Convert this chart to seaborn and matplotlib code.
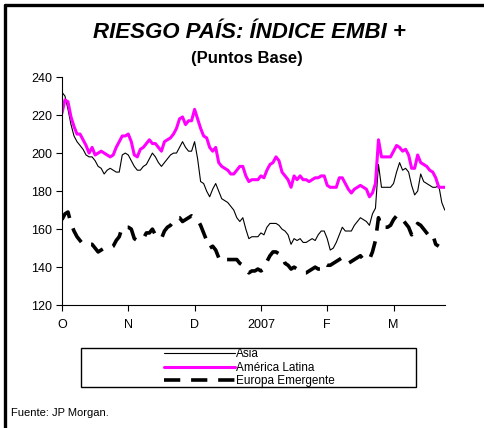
import seaborn as sns
import matplotlib
matplotlib.use("Agg")
import matplotlib.pyplot as plt
import pandas as pd
from matplotlib.lines import Line2D
from matplotlib.patches import Rectangle

# trading days from early October 2006 to late March 2007 (index = day number)
month_ticks = [0, 22, 44, 66, 88, 110]
month_labels = ["O", "N", "D", "2007", "F", "M"]

asia = [232, 230, 223, 215, 209, 206, 204, 202, 199, 198,
        198, 196, 193, 192, 189, 191, 192, 191, 190, 190,
        199, 200, 199, 196, 193, 191, 191, 193, 194, 197,
        200, 198, 195, 193, 195, 197, 199, 200, 200, 203,
        206, 203, 201, 201, 206, 197, 185, 184, 180, 177,
        181, 184, 180, 176, 175, 174, 172, 170, 166, 164,
        166, 160, 155, 156, 156, 156, 158, 157, 161, 163,
        163, 163, 162, 160, 159, 157, 152, 155, 154, 155,
        153, 153, 154, 155, 154, 157, 159, 159, 155, 149,
        150, 153, 157, 161, 159, 159, 159, 162, 164, 166,
        165, 164, 162, 168, 171, 194, 182, 182, 182, 182,
        184, 190, 195, 191, 192, 190, 183, 178, 180, 189,
        185, 184, 183, 182, 182, 183, 174, 170]

america_latina = [221, 228, 227, 219, 214, 210, 210, 207, 204, 200,
                  203, 199, 200, 201, 200, 199, 198, 199, 203, 206,
                  209, 209, 210, 206, 199, 198, 202, 203, 205, 207,
                  205, 205, 203, 201, 206, 207, 208, 210, 213, 218,
                  219, 215, 217, 217, 223, 218, 213, 209, 208, 203,
                  201, 203, 195, 193, 192, 191, 189, 189, 191, 193,
                  193, 188, 185, 186, 186, 186, 188, 187, 191, 194,
                  195, 198, 196, 190, 188, 186, 182, 188, 186, 188,
                  186, 186, 185, 186, 187, 187, 188, 188, 183, 182,
                  182, 182, 187, 187, 184, 181, 179, 181, 182, 183,
                  182, 181, 177, 179, 184, 207, 198, 198, 198, 198,
                  201, 204, 203, 201, 202, 199, 192, 192, 199, 195,
                  194, 193, 191, 190, 187, 182, 182, 182]

europa_emergente = [165, 168, 169, 163, 159, 156, 154, 152, 152, 152,
                    152, 150, 148, 149, 150, 150, 150, 151, 154, 156,
                    161, 161, 161, 160, 155, 154, 154, 155, 158, 158,
                    160, 157, 156, 155, 159, 161, 162, 164, 166, 166,
                    164, 165, 166, 167, 166, 165, 162, 158, 154, 150,
                    151, 149, 145, 143, 144, 144, 144, 144, 144, 142,
                    141, 139, 137, 138, 138, 139, 138, 139, 143, 146,
                    148, 148, 147, 146, 142, 141, 139, 140, 139, 138,
                    137, 137, 138, 139, 140, 139, 139, 142, 141, 141,
                    142, 143, 144, 145, 143, 142, 143, 144, 145, 146,
                    144, 144, 144, 148, 154, 166, 161, 161, 161, 162,
                    165, 167, 167, 165, 163, 161, 157, 159, 163, 162,
                    160, 158, 156, 157, 152, 151]

sns.set_style("white")
plt.rcParams["font.family"] = ["Liberation Sans", "DejaVu Sans"]
plt.rcParams["text.color"] = "black"

fig = plt.figure(figsize=(4.84, 4.28), dpi=100)
ax = fig.add_axes([0.128, 0.287, 0.791, 0.533])

sns.lineplot(x=range(len(asia)), y=asia, ax=ax, color="black", lw=0.8,
             label="Asia")
sns.lineplot(x=range(len(america_latina)), y=america_latina, ax=ax,
             color="#ff00ff", lw=2.2, label="América Latina")
sns.lineplot(x=range(len(europa_emergente)), y=europa_emergente, ax=ax,
             color="black", lw=2.6, label="Europa Emergente")
ax.lines[2].set_dashes((4.5, 3))

ax.set_xlim(0, 127)
ax.set_ylim(120, 240)
ax.set_yticks(range(120, 241, 20))
ax.set_xticks(month_ticks)
ax.set_xticklabels(month_labels)
ax.set_xlabel("")
ax.set_ylabel("")
for s in ["top", "right"]:
    ax.spines[s].set_visible(False)
for s in ["left", "bottom"]:
    ax.spines[s].set_color("black")
    ax.spines[s].set_linewidth(0.8)
ax.tick_params(axis="both", direction="out", length=4, width=0.8,
               colors="black", labelsize=9, pad=3, bottom=True, left=True)
ax.tick_params(axis="x", pad=6)

h, l = ax.get_legend_handles_labels()
ax.get_legend().remove()
leg = fig.legend(h, l, loc="center", bbox_to_anchor=(0.515, 0.141),
                 frameon=False, fontsize=8.5, handlelength=6.0,
                 handletextpad=0.1, labelspacing=0.1, borderpad=0)
for t in leg.get_texts():
    t.set_color("black")
fig.add_artist(Rectangle((81 / 484, 1 - 387 / 428), 335 / 484, 39 / 428,
                         transform=fig.transFigure, fill=False,
                         edgecolor="black", lw=1))

fig.text(249 / 484, 1 - 33 / 428, "RIESGO PAÍS: ÍNDICE EMBI +", ha="center",
         va="center", fontsize=16, fontweight="bold", fontstyle="italic",
         color="black")
fig.text(247 / 484, 1 - 58 / 428, "(Puntos Base)", ha="center", va="center",
         fontsize=12, fontweight="bold", color="black")
fig.text(11 / 484, 1 - 413 / 428, "Fuente: JP Morgan.", ha="left",
         va="center", fontsize=8, color="black")

# outer frame, only left and top edges
fig.add_artist(Line2D([5 / 484, 1], [1 - 5 / 428, 1 - 5 / 428],
                      transform=fig.transFigure, color="black", lw=2.4))
fig.add_artist(Line2D([5 / 484, 5 / 484], [0, 1 - 5 / 428],
                      transform=fig.transFigure, color="black", lw=2.4))

fig.savefig("out.png", dpi=100)
